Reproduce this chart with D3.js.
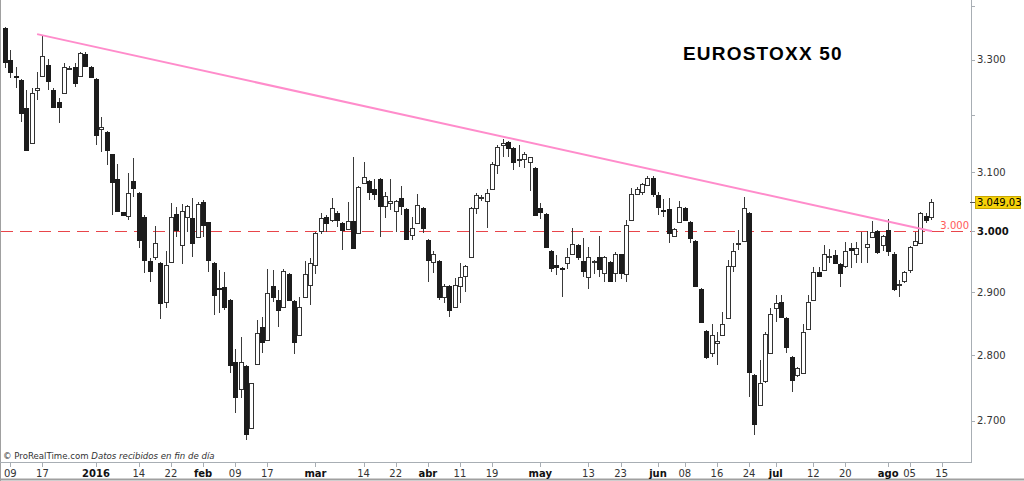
<!DOCTYPE html>
<html lang="en">
<head>
    <meta charset="UTF-8">
    <title>EUROSTOXX 50</title>
    <style>
        body { margin: 0; background: #fff; }
        svg { display: block; }
        .tick-label { font-family: "DejaVu Sans", Verdana, sans-serif; font-size: 10px; fill: #333; }
        .title { font-family: "Liberation Sans", Arial, sans-serif; font-size: 19px; font-weight: bold; letter-spacing: 1.2px; fill: #000; }
        .credit { font-family: "DejaVu Sans", Verdana, sans-serif; font-size: 8.6px; fill: #333; }
    </style>
</head>
<body>

<svg width="1024" height="481"></svg>

<script src="https://cdnjs.cloudflare.com/ajax/libs/d3/7.8.5/d3.min.js"></script>
<script>

    // Daily candles, 8 Dec 2015 .. 11 Aug 2016 (trading days in order)
    const opens = [
        3358, 3299, 3270, 3263, 3213, 3151, 3244, 3270, 3290, 3244,
        3224, 3239, 3283, 3286, 3270, 3310, 3286, 3265, 3175, 3169,
        3131, 3088, 3032, 3025, 3084, 3064, 3024, 2950, 2957, 2947,
        2884, 2949, 3028, 2977, 3024, 3022, 2990, 3049, 3015, 2947,
        2907, 2908, 2887, 2790, 2748, 2783, 2690, 2786, 2844, 2824,
        2910, 2887, 2877, 2929, 2886, 2832, 2893, 2911, 2944, 3000,
        3024, 3018, 3030, 3013, 3003, 3017, 2997, 3081, 3084, 3071,
        3088, 3042, 3048, 3034, 3056, 3037, 2993, 3013, 3039, 2985,
        2949, 2950, 2893, 2910, 2877, 2910, 2926, 2957, 3039, 3055,
        3051, 3071, 3112, 3147, 3152, 3141, 3121, 3122, 3117, 3107,
        3039, 3028, 2967, 2944, 2940, 2947, 2963, 2977, 2950, 2925,
        2949, 2957, 2931, 2949, 2931, 2962, 2929, 3018, 3062, 3066,
        3078, 3090, 3061, 3036, 3037, 2992, 3015, 3039, 3015, 2983,
        2905, 2838, 2804, 2820, 2832, 2858, 2942, 2979, 2983, 3030,
        2769, 2724, 2760, 2803, 2874, 2884, 2858, 2798, 2769, 2772,
        2842, 2887, 2933, 2936, 2957, 2960, 2945, 2942, 2972, 2963,
        2974, 2973, 2990, 3000, 2977, 3002, 2963, 2912, 2918, 2936,
        2977, 2980, 3025, 3024
    ];
    const highs = [
        3360, 3317, 3286, 3265, 3244, 3248, 3277, 3345, 3301, 3248,
        3231, 3293, 3288, 3293, 3313, 3313, 3288, 3267, 3196, 3171,
        3132, 3114, 3032, 3098, 3124, 3066, 3027, 2955, 3008, 2949,
        2967, 3047, 3040, 3045, 3044, 3056, 3049, 3052, 3015, 2949,
        2936, 2933, 2889, 2810, 2829, 2785, 2758, 2855, 2860, 2938,
        2936, 2903, 2938, 2931, 2887, 2893, 2950, 2955, 2998, 3030,
        3027, 3056, 3034, 3015, 3049, 3127, 3076, 3117, 3086, 3088,
        3090, 3066, 3088, 3052, 3076, 3039, 3024, 3062, 3040, 2987,
        2967, 2952, 2914, 2911, 2923, 2947, 2944, 3040, 3064, 3061,
        3071, 3117, 3147, 3158, 3154, 3143, 3147, 3134, 3127, 3109,
        3047, 3030, 2968, 2960, 2941, 2972, 3005, 2978, 2988, 2973,
        2953, 2992, 2959, 2950, 2965, 2963, 3018, 3073, 3074, 3081,
        3093, 3093, 3066, 3054, 3056, 3005, 3050, 3040, 3017, 2985,
        2906, 2839, 2850, 2837, 2869, 2953, 2980, 3002, 3058, 3032,
        2771, 2793, 2837, 2874, 2896, 2895, 2860, 2799, 2782, 2850,
        2895, 2941, 2941, 2977, 2970, 2968, 2947, 2982, 2980, 2982,
        2998, 3000, 3017, 3002, 2993, 3020, 2965, 2919, 2934, 2975,
        2998, 3032, 3030, 3054
    ];
    const lows = [
        3285, 3267, 3248, 3187, 3137, 3150, 3226, 3269, 3244, 3212,
        3185, 3238, 3281, 3250, 3268, 3286, 3266, 3147, 3134, 3112,
        3027, 3033, 3025, 3018, 3057, 2972, 2931, 2916, 2952, 2857,
        2874, 2948, 2990, 2946, 2998, 2957, 2989, 2990, 2933, 2863,
        2866, 2871, 2773, 2712, 2734, 2672, 2689, 2785, 2803, 2822,
        2884, 2844, 2876, 2886, 2802, 2830, 2892, 2880, 2930, 2995,
        2998, 3016, 3007, 2968, 3002, 2970, 2995, 3080, 3052, 3052,
        2990, 3022, 3035, 2998, 3027, 2985, 2985, 3012, 2997, 2916,
        2931, 2887, 2882, 2860, 2876, 2882, 2900, 2955, 3028, 3050,
        3005, 3069, 3096, 3126, 3127, 3103, 3109, 3107, 3068, 3025,
        3020, 2972, 2933, 2928, 2892, 2937, 2962, 2952, 2925, 2905,
        2929, 2925, 2916, 2916, 2916, 2922, 2916, 3017, 3061, 3061,
        3076, 3057, 3027, 3024, 2980, 2990, 3013, 3017, 2980, 2908,
        2852, 2795, 2797, 2785, 2830, 2857, 2933, 2968, 2982, 2736,
        2679, 2722, 2758, 2802, 2852, 2858, 2803, 2743, 2766, 2771,
        2841, 2886, 2925, 2934, 2948, 2946, 2908, 2940, 2940, 2947,
        2948, 2948, 2988, 2963, 2967, 2959, 2902, 2892, 2915, 2931,
        2975, 2978, 3013, 3018
    ];
    const closes = [
        3295, 3277, 3269, 3204, 3138, 3240, 3248, 3306, 3261, 3214,
        3214, 3286, 3285, 3257, 3312, 3288, 3268, 3164, 3178, 3138,
        3083, 3034, 3027, 3064, 3072, 2985, 2952, 2934, 2980, 2882,
        2944, 3024, 3002, 3034, 3042, 2980, 3045, 3010, 2952, 2896,
        2905, 2877, 2785, 2736, 2790, 2681, 2757, 2835, 2821, 2898,
        2893, 2871, 2934, 2887, 2821, 2877, 2929, 2947, 2997, 3022,
        3013, 3039, 3018, 3002, 3017, 2972, 3074, 3091, 3066, 3062,
        3042, 3059, 3050, 3051, 3042, 2987, 3005, 3044, 3005, 2953,
        2962, 2892, 2910, 2871, 2912, 2924, 2942, 3039, 3061, 3057,
        3064, 3114, 3143, 3151, 3141, 3117, 3123, 3131, 3126, 3027,
        3032, 2973, 2939, 2941, 2938, 2957, 2978, 2957, 2934, 2957,
        2950, 2937, 2957, 2918, 2963, 2931, 3010, 3062, 3071, 3080,
        3090, 3062, 3040, 3034, 2997, 3003, 3040, 3018, 2988, 2910,
        2853, 2797, 2832, 2822, 2849, 2942, 2967, 2981, 3039, 2775,
        2696, 2758, 2833, 2865, 2882, 2860, 2813, 2762, 2780, 2837,
        2884, 2933, 2926, 2963, 2959, 2947, 2931, 2967, 2968, 2972,
        2973, 2978, 2998, 2965, 2992, 2967, 2905, 2914, 2933, 2973,
        2983, 3030, 3018, 3049.03
    ];

    // time axis: candle index of each labelled day
    const tickIdx = [1, 7, 17, 25, 31, 37, 43, 49, 58, 67, 73, 79, 85, 91,
                     100, 109, 115, 122, 127, 133, 139, 144, 151, 157, 165, 169, 175];
    const tickText = ['09', '17', '2016', '14', '22', 'feb', '09', '17', 'mar', '14', '22', 'abr', '11', '19',
                      'may', '13', '23', 'jun', '08', '16', '24', 'jul', '12', '20', 'ago', '05', '15'];

    const priceTicks = [2700, 2800, 2900, 3000, 3100, 3200, 3300, 3400];
    const priceLabelled = [2700, 2800, 2900, 3000, 3100, 3300];

    const supportLevel = 3000;
    // downtrend line: [candle index, price]
    const trendStart = [6, 3347];
    const trendEnd = [173.2, 3000];

    const svg = d3.select('svg');
    const width = +svg.attr('width');
    const height = +svg.attr('height');

    const plotRight = 971;
    const plotBottom = 462;

    const x = d3.scaleLinear().domain([0, opens.length - 1]).range([5, 931]);
    const y = d3.scaleLog().domain([2639, 3411]).range([plotBottom, 0]);

    const esFormat = d3.formatLocale({ decimal: ',', thousands: '.', grouping: [3], currency: ['', '€'] });
    const fmtInt = esFormat.format(',.0f');
    const fmtDec = esFormat.format(',.2f');

    svg.append('rect').attr('width', width).attr('height', height).attr('fill', '#fff');

    // frame
    svg.append('line')
        .attr('x1', 0.5).attr('x2', 0.5).attr('y1', 0).attr('y2', height)
        .attr('stroke', '#a0a0a0');
    svg.append('line')
        .attr('x1', 0).attr('x2', width).attr('y1', 479.5).attr('y2', 479.5)
        .attr('stroke', '#a0a0a0').attr('stroke-width', 2);
    svg.append('line')
        .attr('x1', 0).attr('x2', plotRight).attr('y1', plotBottom + 0.5).attr('y2', plotBottom + 0.5)
        .attr('stroke', '#a8aeb4');
    svg.append('line')
        .attr('x1', plotRight + 0.5).attr('x2', plotRight + 0.5).attr('y1', 0).attr('y2', plotBottom + 1)
        .attr('stroke', '#a8aeb4');

    // 3.000 dashed level
    const ySup = Math.round(y(supportLevel)) + 0.5;
    svg.append('line')
        .attr('x1', 1).attr('x2', plotRight).attr('y1', ySup).attr('y2', ySup)
        .attr('stroke', '#e8454a').attr('stroke-width', 1)
        .attr('stroke-dasharray', '12,7');

    // candles
    const candles = opens.map(function (o, i) {
        return { i: i, o: o, h: highs[i], l: lows[i], c: closes[i] };
    });

    const cg = svg.append('g');

    cg.selectAll('line.wick')
        .data(candles)
        .enter()
        .append('line')
        .attr('class', 'wick')
        .attr('x1', function (d) { return Math.round(x(d.i)) + 0.5; })
        .attr('x2', function (d) { return Math.round(x(d.i)) + 0.5; })
        .attr('y1', function (d) { return Math.round(y(d.h)); })
        .attr('y2', function (d) { return Math.round(y(d.l)); })
        .attr('stroke', '#3a3a3a');

    cg.selectAll('rect.body')
        .data(candles)
        .enter()
        .append('rect')
        .attr('class', 'body')
        .attr('x', function (d) { return Math.round(x(d.i)) - 2 + 0.5; })
        .attr('width', 4)
        .attr('y', function (d) { return Math.round(y(Math.max(d.o, d.c))) + 0.5; })
        .attr('height', function (d) {
            return Math.max(0, Math.round(y(Math.min(d.o, d.c))) - Math.round(y(Math.max(d.o, d.c))));
        })
        .attr('fill', function (d) { return d.c >= d.o ? '#fff' : '#1c1c1c'; })
        .attr('stroke', function (d) { return d.c >= d.o ? '#333' : '#1c1c1c'; })
        .attr('stroke-width', 1);

    // trend line
    svg.append('line')
        .attr('x1', x(trendStart[0])).attr('y1', y(trendStart[1]))
        .attr('x2', x(trendEnd[0])).attr('y2', y(trendEnd[1]))
        .attr('stroke', '#ff8ccb').attr('stroke-width', 2);

    // level label
    svg.append('text')
        .attr('class', 'tick-label')
        .attr('x', 969).attr('y', ySup - 3)
        .attr('text-anchor', 'end')
        .attr('fill', '#ff5a5a')
        .style('fill', '#ff5a5a')
        .text(fmtInt(supportLevel));

    // price axis
    const py = svg.append('g');
    py.selectAll('line')
        .data(priceTicks)
        .enter()
        .append('line')
        .attr('x1', plotRight).attr('x2', plotRight + 4)
        .attr('y1', function (d) { return Math.round(y(d)) + 0.5; })
        .attr('y2', function (d) { return Math.round(y(d)) + 0.5; })
        .attr('stroke', '#a8aeb4');

    py.selectAll('text')
        .data(priceLabelled)
        .enter()
        .append('text')
        .attr('class', 'tick-label')
        .attr('x', plotRight + 6)
        .attr('y', function (d) { return y(d) + 3.5; })
        .style('font-weight', function (d) { return d === supportLevel ? 'bold' : 'normal'; })
        .style('fill', function (d) { return d === supportLevel ? '#111' : '#333'; })
        .text(fmtInt);

    // last price tag
    const lastClose = closes[closes.length - 1];
    const yLast = Math.round(y(lastClose));
    svg.append('line')
        .attr('x1', plotRight - 1).attr('x2', plotRight + 4)
        .attr('y1', yLast + 0.5).attr('y2', yLast + 0.5)
        .attr('stroke', '#555');
    svg.append('rect')
        .attr('x', 975.5).attr('y', yLast - 5.5)
        .attr('width', 45).attr('height', 12)
        .attr('fill', '#f5d20a').attr('stroke', '#c9a600');
    svg.append('text')
        .attr('class', 'tick-label')
        .attr('x', 977).attr('y', yLast + 4)
        .style('fill', '#000')
        .text(fmtDec(lastClose));

    // time axis
    const tx = svg.append('g');
    tx.selectAll('line')
        .data(tickIdx)
        .enter()
        .append('line')
        .attr('x1', function (d) { return Math.round(x(d)) + 0.5; })
        .attr('x2', function (d) { return Math.round(x(d)) + 0.5; })
        .attr('y1', plotBottom + 1).attr('y2', plotBottom + 5)
        .attr('stroke', '#a8aeb4');

    tx.selectAll('text')
        .data(tickIdx)
        .enter()
        .append('text')
        .attr('class', 'tick-label')
        .attr('x', function (d) { return x(d); })
        .attr('y', 477)
        .attr('text-anchor', 'middle')
        .style('font-weight', function (d, i) { return /^\d\d$/.test(tickText[i]) ? 'normal' : 'bold'; })
        .style('fill', function (d, i) { return /^\d\d$/.test(tickText[i]) ? '#333' : '#111'; })
        .text(function (d, i) { return tickText[i]; });

    // title
    svg.append('text')
        .attr('class', 'title')
        .attr('x', 683).attr('y', 60)
        .text('EUROSTOXX 50');

    // credit line
    const credit = svg.append('text')
        .attr('class', 'credit')
        .attr('x', 3).attr('y', 459);
    credit.append('tspan').text('© ProRealTime.com ');
    credit.append('tspan').style('font-style', 'italic').text('Datos recibidos en fin de día');

</script>

</body>
</html>
